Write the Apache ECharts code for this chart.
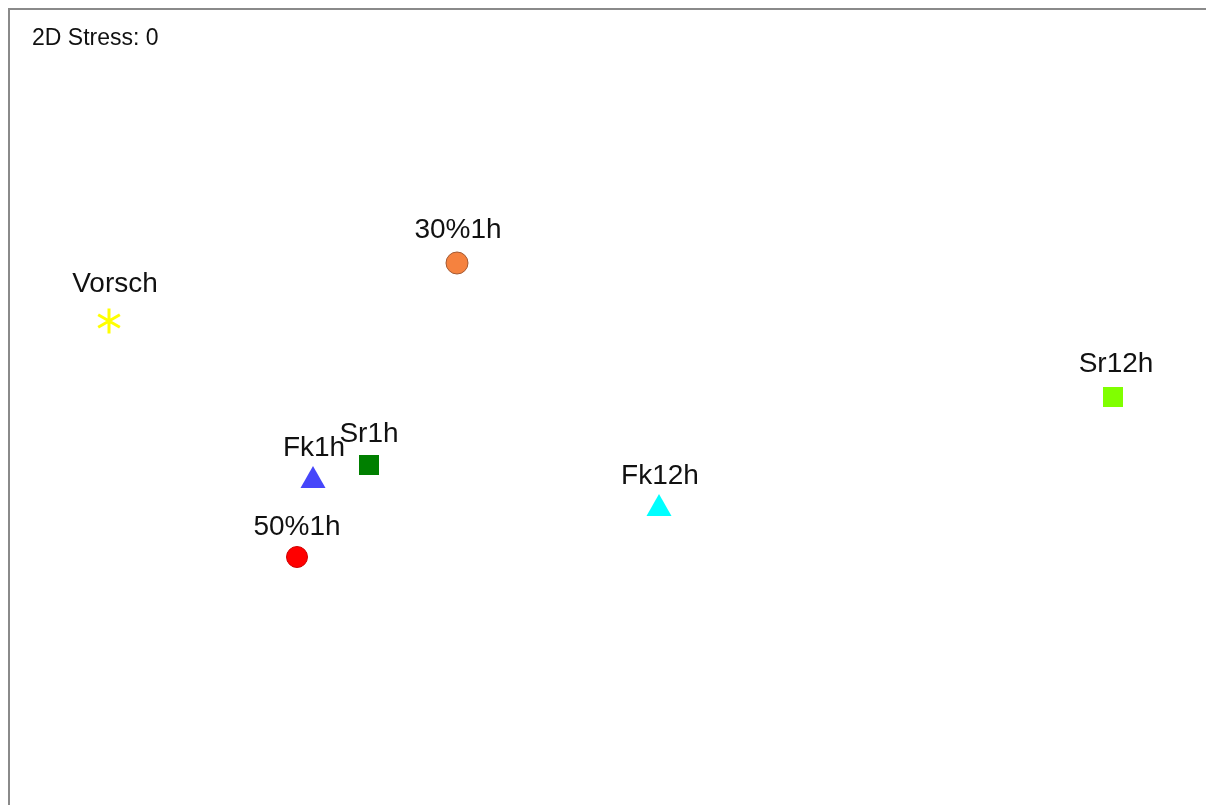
<!DOCTYPE html>
<html>
<head>
<meta charset="utf-8">
<script src="https://cdn.jsdelivr.net/npm/echarts@6/dist/echarts.min.js"></script>
<style>
  html, body { margin: 0; padding: 0; background: #fff; }
  #chart { width: 1206px; height: 805px; }
</style>
</head>
<body>
<div id="chart"></div>
<script>
// NMDS ordination: sample names and their coordinates on the two MDS axes
const samples = ['Vorsch', '30%1h', 'Sr12h', 'Sr1h', 'Fk1h', 'Fk12h', '50%1h'];
const mds1 = [-1.25, -0.38, 1.26, -0.60, -0.74, 0.125, -0.78];
const mds2 = [0.22, 0.365, 0.03, -0.14, -0.17, -0.24, -0.37];
const stressText = '2D Stress: 0';

// six-armed asterisk built from three filled bars
const asterisk = 'path://M-1.2,-10 L1.2,-10 L1.2,10 L-1.2,10 Z ' +
  'M-9.26,-3.96 L-8.06,-6.04 L9.26,3.96 L8.06,6.04 Z ' +
  'M8.06,-6.04 L9.26,-3.96 L-8.06,6.04 L-9.26,3.96 Z';

// marker appearance per sample
const markerStyle = {
  'Vorsch': { symbol: asterisk, size: 25, color: '#FFFF00', dx: 6, dist: 10 },
  '30%1h':  { symbol: 'circle', size: 22, color: '#F5823F', border: '#A45A33', dx: 1, dist: 7 },
  'Sr12h':  { symbol: 'rect', size: 20, color: '#80FF00', dx: 3, dist: 9 },
  'Sr1h':   { symbol: 'rect', size: 20, color: '#007F00', dx: 0, dist: 7 },
  'Fk1h':   { symbol: 'triangle', size: [25, 22], color: '#4646FA', dx: 1, dist: 4 },
  'Fk12h':  { symbol: 'triangle', size: [25, 22], color: '#00FFFF', dx: 1, dist: 4 },
  '50%1h':  { symbol: 'circle', size: 21, color: '#FF0000', border: '#D00000', dx: 0, dist: 5 }
};

const series = samples.map((name, i) => {
  const s = markerStyle[name];
  return {
    name: name,
    type: 'scatter',
    symbol: s.symbol,
    symbolSize: s.size,
    symbolKeepAspect: true,
    data: [[mds1[i], mds2[i]]],
    itemStyle: {
      color: s.color,
      borderColor: s.border || s.color,
      borderWidth: s.border ? 1 : 0,
      opacity: 1
    },
    label: {
      show: true,
      position: 'top',
      distance: s.dist,
      offset: [s.dx, 0],
      formatter: name,
      fontFamily: 'Liberation Sans, Arial, sans-serif',
      fontSize: 28,
      color: '#111'
    },
    emphasis: { disabled: true },
    animation: false
  };
});

const chart = echarts.init(document.getElementById('chart'), null, { renderer: 'canvas' });
chart.setOption({
  backgroundColor: '#ffffff',
  animation: false,
  title: {
    text: stressText,
    left: 27,
    top: 22,
    textStyle: {
      fontFamily: 'Liberation Sans, Arial, sans-serif',
      fontSize: 23,
      fontWeight: 'normal',
      color: '#111'
    }
  },
  // plot frame runs past the right and bottom edges, so only top and left show
  graphic: [{
    type: 'polyline',
    shape: { points: [[9, 805], [9, 9], [1206, 9]] },
    style: { stroke: '#8a8a8a', lineWidth: 2, fill: null },
    silent: true,
    z: 10
  }],
  grid: {
    show: false,
    left: 9,
    top: 9,
    width: 1196,
    height: 796
  },
  xAxis: {
    type: 'value', min: -1.5, max: 1.49,
    axisLine: { show: false }, axisTick: { show: false },
    axisLabel: { show: false }, splitLine: { show: false }
  },
  yAxis: {
    type: 'value', min: -0.99, max: 1,
    axisLine: { show: false }, axisTick: { show: false },
    axisLabel: { show: false }, splitLine: { show: false }
  },
  series: series
});
</script>
</body>
</html>
